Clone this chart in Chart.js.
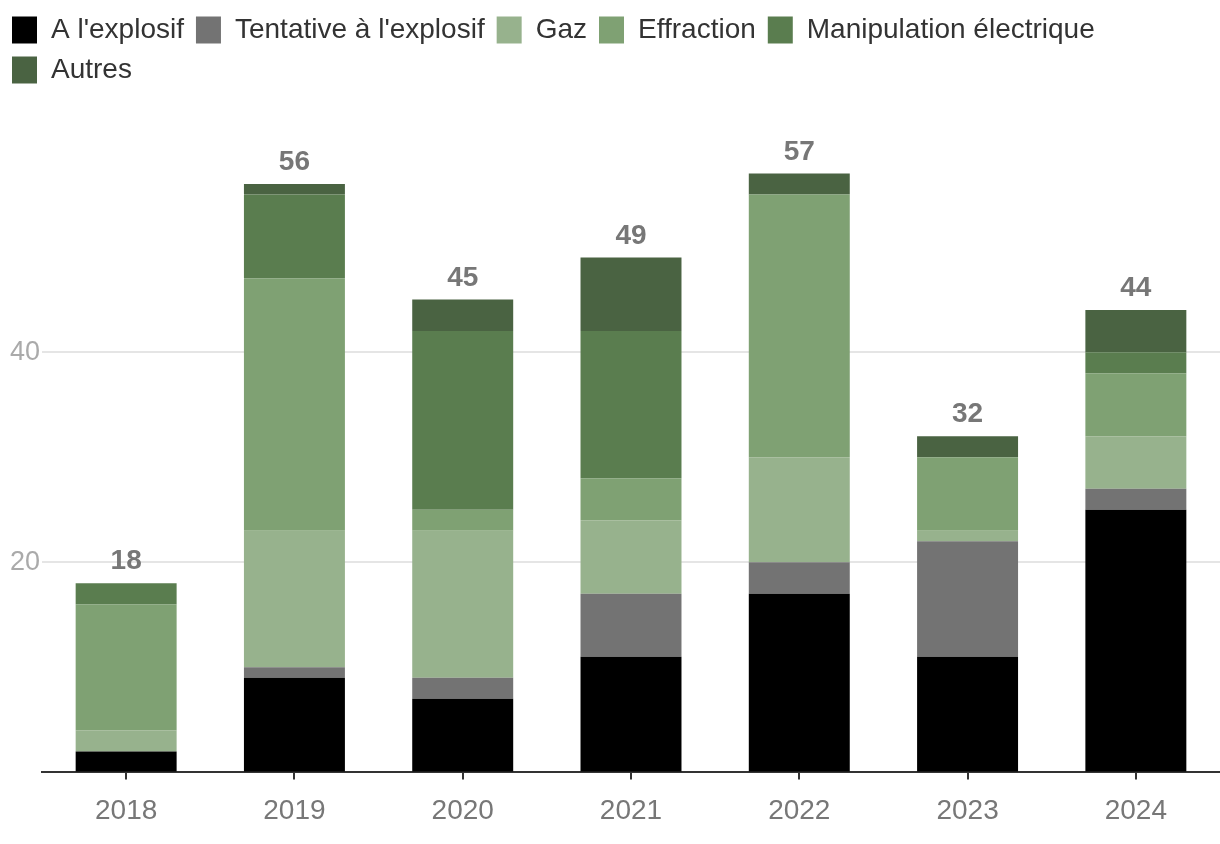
<!DOCTYPE html>
<html>
<head>
<meta charset="utf-8">
<script src="https://cdn.jsdelivr.net/npm/chart.js@4"></script>
<style>
html, body { margin:0; padding:0; background:#fff; }
#wrap { width:1220px; height:844px; position:relative; }
</style>
</head>
<body>
<div id="wrap"><canvas id="chartAttaques"></canvas></div>
<script>
// ==========================
// DONNEES
// ==========================

const annees = ["2018", "2019", "2020", "2021", "2022", "2023", "2024"];

const explosif     = [2, 9, 7, 11, 17, 11, 25];
const tentative    = [0, 1, 2, 6, 3, 11, 2];
const gaz          = [2, 13, 14, 7, 10, 1, 5];
const effraction   = [12, 24, 2, 4, 25, 7, 6];
const manipulation = [2, 8, 17, 14, 0, 0, 2];
const autres       = [0, 1, 3, 7, 2, 2, 4];

const ticksY = [20, 40];

Chart.defaults.font.family = "'Liberation Sans', Arial, sans-serif";
Chart.defaults.color = "#333";

// total au-dessus de chaque barre
const totaux = {
  id: "totaux",
  afterDatasetsDraw(chart) {
    const ctx = chart.ctx;
    const x = chart.scales.x, y = chart.scales.y;
    ctx.save();
    ctx.font = "bold 28px 'Liberation Sans', Arial, sans-serif";
    ctx.fillStyle = "#777";
    ctx.textAlign = "center";
    ctx.textBaseline = "alphabetic";
    annees.forEach((a, i) => {
      let total = 0;
      chart.data.datasets.forEach(ds => total += ds.data[i]);
      ctx.fillText(total, x.getPixelForValue(i), y.getPixelForValue(total) - 14);
    });
    ctx.restore();
  }
};

// espace sous la legende
const espaceLegende = {
  id: "espaceLegende",
  beforeInit(chart) {
    const fit = chart.legend.fit;
    chart.legend.fit = function () {
      fit.bind(chart.legend)();
      this.height += 48;
    };
  }
};

new Chart(document.getElementById("chartAttaques"), {
  type: "bar",
  data: {
    labels: annees,
    datasets: [
      { label: "A l'explosif", data: explosif, backgroundColor: "#000000" },
      { label: "Tentative à l'explosif", data: tentative, backgroundColor: "#737373" },
      { label: "Gaz", data: gaz, backgroundColor: "#97b28d" },
      { label: "Effraction", data: effraction, backgroundColor: "#7fa173" },
      { label: "Manipulation électrique", data: manipulation, backgroundColor: "#5a7d4f" },
      { label: "Autres", data: autres, backgroundColor: "#4a6342" }
    ]
  },
  options: {
    responsive: true,
    maintainAspectRatio: false,
    animation: false,
    events: [],
    layout: { padding: { top: 4, left: 0, right: 0, bottom: 1 } },
    datasets: { bar: { barPercentage: 0.6, categoryPercentage: 1, borderWidth: 0 } },
    plugins: {
      legend: {
        position: "top",
        align: "start",
        labels: {
          boxWidth: 25,
          boxHeight: 27,
          padding: 12,
          color: "#333",
          font: { size: 28 }
        }
      },
      tooltip: { enabled: false }
    },
    scales: {
      x: {
        stacked: true,
        grid: { drawOnChartArea: false, drawTicks: true, tickLength: 7, color: "#333", lineWidth: 2, offset: false },
        border: { color: "#333", width: 2 },
        ticks: { color: "#777", font: { size: 28 }, padding: 15 }
      },
      y: {
        stacked: true,
        min: 0,
        max: 60,
        afterFit: s => { s.width = 42; },
        border: { display: false },
        grid: {
          drawTicks: false,
          color: c => ticksY.includes(c.tick.value) ? "#e5e5e5" : "rgba(0,0,0,0)",
          lineWidth: 2
        },
        ticks: {
          stepSize: 20,
          color: "#aaa",
          font: { size: 27 },
          padding: 2,
          callback: v => ticksY.includes(v) ? v : ""
        }
      }
    }
  },
  plugins: [totaux, espaceLegende]
});
</script>
</body>
</html>
